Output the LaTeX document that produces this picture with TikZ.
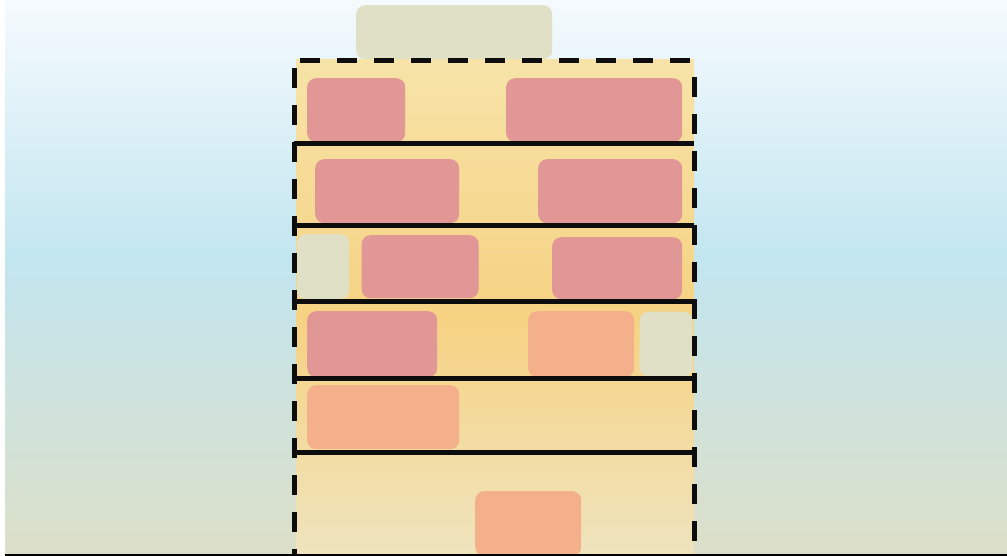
\documentclass[tikz,border=0pt]{standalone}
\usepackage{tikz}
\usetikzlibrary{positioning}
\definecolor{skytop}{RGB}{245,250,253}
\definecolor{skymid}{RGB}{194,230,240}
\definecolor{skybot}{RGB}{220,223,200}
\definecolor{walltop}{RGB}{247,227,168}
\definecolor{wallmid}{RGB}{246,210,130}
\definecolor{wallbot}{RGB}{239,228,190}
\definecolor{rose}{RGB}{225,151,149}
\definecolor{peach}{RGB}{244,176,138}
\definecolor{sage}{RGB}{224,224,198}
\pgfdeclareverticalshading{sky}{100bp}{color(0bp)=(skybot); color(25bp)=(skybot); color(52bp)=(skymid); color(70bp)=(skytop!80!skymid); color(75bp)=(skytop); color(100bp)=(skytop)}
\pgfdeclareverticalshading{wall}{100bp}{color(0bp)=(wallbot); color(25bp)=(wallbot); color(49bp)=(wallmid); color(75bp)=(walltop); color(100bp)=(walltop)}
\tikzstyle{room}=[rectangle, rounded corners=9pt, inner sep=0pt, anchor=north west]
\tikzstyle{floor}=[line width=5pt, color=black!95]
\tikzstyle{frame}=[line width=5pt, color=black!95, dash pattern=on 20pt off 17pt]

\begin{document}
\begin{tikzpicture}[x=1pt, y=-1pt]
    \useasboundingbox (0,0) rectangle (1007,556);
    % sky and building body
    \shade[shading=sky] (5,0) rectangle (1007,555);
    \coordinate (bl) at (294,556);
    \coordinate (tl) at (294,61);
    \coordinate (tr) at (694,61);
    \coordinate (br) at (694,556);
    \shade[shading=wall] (296,60) rectangle (694,556);

    % rooms
    \node[room, fill=sage, minimum width=196pt, minimum height=54pt] (roof) at (356,5) {};
    \node[room, fill=rose, minimum width=98pt, minimum height=64pt] (r1a) at (307,78) {};
    \node[room, fill=rose, minimum width=176pt, minimum height=64pt] (r1b) at (506,78) {};
    \node[room, fill=rose, minimum width=144pt, minimum height=64pt] (r2a) at (315,159) {};
    \node[room, fill=rose, minimum width=144pt, minimum height=64pt] (r2b) at (538,159) {};
    \node[room, fill=sage, minimum width=52pt, minimum height=65pt] (r3a) at (297,234) {};
    \node[room, fill=rose, minimum width=117pt, minimum height=63pt, right=12pt of r3a] (r3b) {};
    \node[room, fill=rose, minimum width=130pt, minimum height=62pt] (r3c) at (552,237) {};
    \node[room, fill=rose, minimum width=130pt, minimum height=66pt] (r4a) at (307,311) {};
    \node[room, fill=peach, minimum width=106pt, minimum height=66pt] (r4b) at (528,311) {};
    \node[room, fill=sage, minimum width=53pt, minimum height=65pt, right=5pt of r4b] (r4c) {};
    \node[room, fill=peach, minimum width=152pt, minimum height=64pt] (r5a) at (307,385) {};
    \node[room, fill=peach, minimum width=106pt, minimum height=65pt] (r6a) at (475,491) {};

    % outline and floors
    \draw[frame] ([yshift=-7pt]tl) -- (bl);
    \draw[frame] ([xshift=6pt]tl) -- (tr);
    \draw[frame] ([yshift=-16pt]tr) -- (br);
    \foreach \y in {144,226,301,378,452}
        \draw[floor] (294,\y) -- (694,\y);
    \draw[line width=1.5pt] (5,555) -- (1007,555);
\end{tikzpicture}
\end{document}
